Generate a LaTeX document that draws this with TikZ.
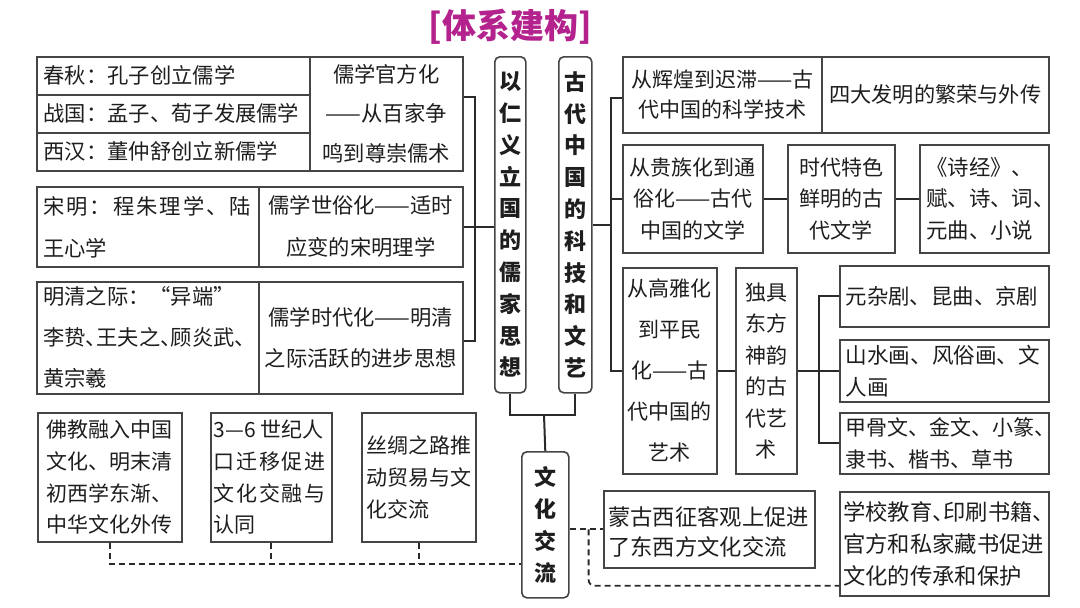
\documentclass[tikz,border=0pt]{standalone}
\usepackage{fontspec}
\setmainfont{Noto Sans CJK SC}
\usetikzlibrary{calc}
\definecolor{linec}{HTML}{2A2A2A}
\definecolor{boxc}{HTML}{454545}
\definecolor{txt}{HTML}{1E1E1E}
\definecolor{mag}{HTML}{B3228D}
\newcommand\hw[1]{\makebox[0.5em][l]{#1}}
\newcommand\fs[2]{\fontsize{#1}{#2}\selectfont}
\makeatletter
\newcommand\spreadto[2]{\makebox[#1][s]{\spr@a#2\@nil}}
\def\spr@a#1#2\@nil{#1\ifx\relax#2\relax\else\hfill\spr@a#2\@nil\fi}
\makeatother
\tikzset{
  box/.style={draw=boxc, line width=1.6pt, inner sep=0pt, anchor=north west, text=txt, align=center},
  pill/.style={box, rounded corners=5pt, font=\fs{22}{31.8}\bfseries},
  tl/.style={anchor=west, inner sep=0pt, text=txt, align=left},
  conn/.style={draw=linec, line width=2pt},
  dsh/.style={draw=linec, line width=1.8pt, dash pattern=on 6pt off 4pt},
}
\begin{document}
\begin{tikzpicture}[x=1pt, y=-1pt]
\useasboundingbox[fill=white] (0,0) rectangle (1080,608);
% title
\node[font=\fs{34}{40}\bfseries, text=mag, inner sep=0pt] (title) at (510,27) {[体系建构]};
% group 1
\node[box, minimum width=273pt, minimum height=38pt] (g1a) at (36,56) {};
\node[box, minimum width=273pt, minimum height=38pt] (g1b) at (36,94) {};
\node[box, minimum width=273pt, minimum height=38pt] (g1c) at (36,132) {};
\node[tl, font=\fs{21.3}{26}] (g1at) at ($(g1a.west)+(7.5,0)$) {春秋：孔子创立儒学};
\node[tl, font=\fs{21.3}{26}] (g1bt) at ($(g1b.west)+(7.5,0)$) {战国：孟子、荀子发展儒学};
\node[tl, font=\fs{21.3}{26}] (g1ct) at ($(g1c.west)+(7.5,0)$) {西汉：董仲舒创立新儒学};
\node[box, minimum width=153pt, minimum height=114pt, font=\fs{21.3}{39.5}] (g1r) at (309,56) {儒学官方化\\——从百家争\\鸣到尊崇儒术};
% group 2
\node[box, minimum width=222pt, minimum height=80pt] (g2l) at (36,186) {};
\node[tl, font=\fs{21.3}{42}] (g2lt) at ($(g2l.west)+(7,0)$) {\spreadto{208pt}{宋明：程朱理学、陆}\\王心学};
\node[box, minimum width=204pt, minimum height=80pt, font=\fs{21.3}{42}] (g2r) at (258,186) {儒学世俗化——适时\\应变的宋明理学};
% group 3
\node[box, minimum width=222pt, minimum height=112pt] (g3l) at (36,281) {};
\node[tl, font=\fs{21.3}{41}] (g3lt) at ($(g3l.west)+(7,0)$) {明清之际：“异端”\\李贽\hw{、}王夫之\hw{、}顾炎武\hw{、}\\黄宗羲};
\node[box, minimum width=204pt, minimum height=112pt, font=\fs{21.3}{41}] (g3r) at (258,281) {儒学时代化——明清\\之际活跃的进步思想};
% pillars
\node[pill, minimum width=31pt, minimum height=336pt] (p1) at (494,56) {以\\仁\\义\\立\\国\\的\\儒\\家\\思\\想};
\node[pill, minimum width=33pt, minimum height=336pt] (p2) at (558,56) {古\\代\\中\\国\\的\\科\\技\\和\\文\\艺};
\node[pill, minimum width=47pt, minimum height=146pt] (cult) at (521,451) {文\\化\\交\\流};
% right row 1
\node[box, minimum width=199pt, minimum height=76pt, font=\fs{21}{30}] (r1l) at (622,56) {从辉煌到迟滞——古\\代中国的科学技术};
\node[box, minimum width=227pt, minimum height=76pt, font=\fs{21.2}{30}] (r1r) at (821,56) {四大发明的繁荣与外传};
% right row 2
\node[box, minimum width=140pt, minimum height=108pt, font=\fs{21}{31.7}] (r2a) at (622,144) {从贵族化到通\\俗化——古代\\中国的文学};
\node[box, minimum width=107pt, minimum height=108pt, font=\fs{21}{31.7}] (r2b) at (787,144) {时代特色\\鲜明的古\\代文学};
\node[box, minimum width=129pt, minimum height=108pt] (r2c) at (919,144) {};
\node[tl, font=\fs{21.4}{31.7}] (r2ct) at ($(r2c.west)+(7,0)$) {《诗经》、\\赋、诗、词\hw{、}\\元曲、小说};
% right row 3
\node[box, minimum width=94pt, minimum height=206pt, font=\fs{21}{41}] (r3a) at (622,267) {从高雅化\\到平民\\化——古\\代中国的\\艺术};
\node[box, minimum width=61pt, minimum height=206pt, font=\fs{21}{31.5}] (r3b) at (735,267) {独具\\东方\\神韵\\的古\\代艺\\术};
\node[box, minimum width=209pt, minimum height=61pt] (r3c) at (839,265) {};
\node[box, minimum width=209pt, minimum height=62pt] (r3d) at (839,339) {};
\node[box, minimum width=209pt, minimum height=61pt] (r3e) at (839,412) {};
\node[tl, font=\fs{21.4}{32}] (r3ct) at ($(r3c.west)+(6.5,0)$) {元杂剧、昆曲、京剧};
\node[tl, font=\fs{21.6}{32}] (r3dt) at ($(r3d.west)+(6.5,0)$) {山水画、风俗画、文\\人画};
\node[tl, font=\fs{21}{32}] (r3et) at ($(r3e.west)+(6.5,0)$) {甲骨文、金文、小篆\hw{、}\\隶书、楷书、草书};
% bottom right
\node[box, minimum width=211pt, minimum height=77pt] (mg) at (603,490) {};
\node[tl, font=\fs{22.3}{30}] (mgt) at ($(mg.west)+(5,3)$) {蒙古西征客观上促进\\了东西方文化交流};
\node[box, minimum width=209pt, minimum height=104pt] (xx) at (839,491) {};
\node[tl, font=\fs{22.3}{31.7}] (xxt) at ($(xx.west)+(4,0)$) {学校教育\hw{、}印刷书籍\hw{、}\\官方和私家藏书促进\\文化的传承和保护};
% bottom left
\node[box, minimum width=144pt, minimum height=129pt] (bA) at (37,412) {};
\node[box, minimum width=121pt, minimum height=129pt] (bB) at (210,412) {};
\node[box, minimum width=114pt, minimum height=129pt] (bC) at (361,412) {};
\node[tl, font=\fs{21}{31.7}] (bAt) at ($(bA.west)+(9.5,0)$) {佛教融入中国\\文化、明末清\\初西学东渐、\\中华文化外传};
\node[tl, font=\fs{21}{31.7}] (bBt) at ($(bB.west)+(3.5,0)$) {3—6 世纪人\\\spreadto{112pt}{口迁移促进}\\\spreadto{112pt}{文化交融与}\\认同};
\node[tl, font=\fs{21}{31.7}] (bCt) at ($(bC.west)+(5,0)$) {丝绸之路推\\动贸易与文\\化交流};
% connectors left
\coordinate (jl) at (475,228);
\draw[conn] ([yshift=-41pt]g1r.north east) -| (jl) |- ([yshift=-60pt]g3r.north east);
\draw[conn] (g2r.east) -- (g2r.east -| p1.west);
% pillars to culture
\coordinate (jb) at (544,415);
\draw[conn] (p1.south) |- (jb) -| (p2.south);
\draw[conn] (jb) -- (cult.north);
% connectors right
\coordinate (jr) at ($(p2.east)+(18.5,0)$);
\draw[conn] (p2.east) -- (jr);
\draw[conn] ([yshift=-3pt]r1l.west) -| (jr) |- (r3a.west);
\draw[conn] (jr) |- (r2a.west);
\draw[conn] (r2a) -- (r2b);
\draw[conn] (r2b) -- (r2c);
\draw[conn] (r3a) -- (r3b);
\coordinate (jr3) at ($(r3b.east)+(21,0)$);
\draw[conn] (r3b.east) -- (jr3) -- (r3d.west);
\draw[conn] (r3c.west) -| (jr3) |- (r3e.west);
% dashed
\coordinate (dl) at ([yshift=-39pt]cult.west);
\draw[dsh] (bA.south) |- (dl);
\draw[dsh] (bB.south) -- (bB.south |- dl);
\draw[dsh] (bC.south) -- (bC.south |- dl);
\coordinate (dr) at (cult.east |- mg.west);
\draw[dsh] (dr) -- (mg.west);
\draw[dsh, rounded corners=6pt] ($(dr)+(19,0)$) |- ([yshift=-42pt]xx.west);
\end{tikzpicture}
\end{document}
